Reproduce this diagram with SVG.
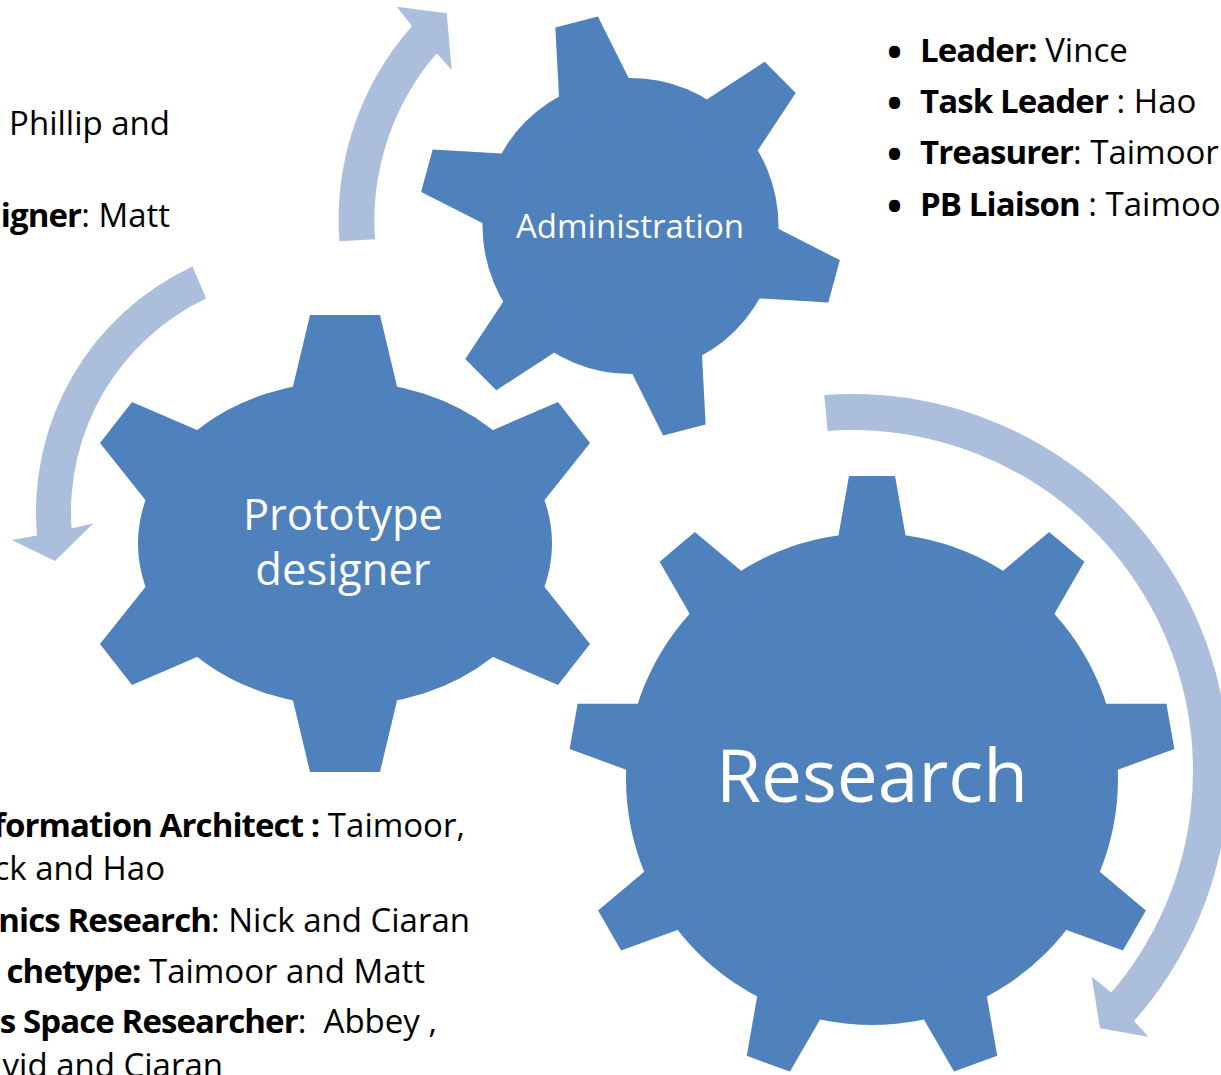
<svg xmlns="http://www.w3.org/2000/svg" xmlns:xlink="http://www.w3.org/1999/xlink" width="1221" height="1075" viewBox="0 0 1221 1075">
<style>
.gear{fill:#4f81bd}
.arrow{fill:#abbedc}
.t{font-family:"Open Sans","Liberation Sans",sans-serif;font-size:33px;fill:#000}
.b{font-weight:bold;letter-spacing:-0.9px}
.bul{font-size:40px;font-weight:bold}
.lbl{font-family:"Open Sans","Liberation Sans",sans-serif;fill:#fff;text-anchor:middle}
</style>
<defs>
<polygon id="toothR" points="-39.5,-210 -23,-303 23,-303 39.5,-210"/>
<polygon id="toothA" points="-43,-110 -22,-211 22,-211 43,-110"/>
</defs>
<rect width="1221" height="1075" fill="#fff"/>
<g id="connectors">
<path class="arrow" d="M339.4,241.3 A293,293 0 0 1 412,26 L396.7,6.7 L446.7,13.3 L451.7,70 L436.7,53.3 A257,257 0 0 0 375,239.3 Z"/>
<path class="arrow" d="M192.5,266.4 A271,271 0 0 0 37,535.6 L11.7,540 L55,561 L93.3,523.3 L71.6,528.5 A236,236 0 0 1 206.1,298.6 Z"/>
<path class="arrow" d="M824.3,395 A377,377 0 0 1 1134,1021 L1148.3,1036.7 L1100,1028.3 L1091.7,976.7 L1111.3,992.5 A341,341 0 0 0 827.6,430.9 Z"/>
</g>
<g id="node-administration" class="gear">
<g transform="translate(630.5,226)">
<circle r="148"/>
<use xlink:href="#toothA" transform="rotate(-14.8)"/>
<use xlink:href="#toothA" transform="rotate(45.2)"/>
<use xlink:href="#toothA" transform="rotate(105.2)"/>
<use xlink:href="#toothA" transform="rotate(165.2)"/>
<use xlink:href="#toothA" transform="rotate(225.2)"/>
<use xlink:href="#toothA" transform="rotate(285.2)"/>
</g>
<text class="lbl" x="630" y="238" font-size="33">Administration</text>
</g>
<g id="node-prototype" class="gear">
<ellipse cx="345" cy="543.5" rx="207" ry="162"/>
<polygon points="285,420 310,315 380,315 405,420"/>
<polygon points="285,667 310,772 380,772 405,667"/>
<polygon points="229.5,444 132,402 100,443 164.5,524"/>
<polygon points="460.5,444 558,402 590,443 525.5,524"/>
<polygon points="229.5,643 132,685 100,644 164.5,563"/>
<polygon points="460.5,643 558,685 590,644 525.5,563"/>
<text class="lbl" x="343" y="530" font-size="43.5">Prototype</text>
<text class="lbl" x="343" y="585" font-size="43.5">designer</text>
</g>
<g id="node-research" class="gear">
<g transform="translate(872,779)">
<circle r="246"/>
<use xlink:href="#toothR"/>
<use xlink:href="#toothR" transform="rotate(40)"/>
<use xlink:href="#toothR" transform="rotate(80)"/>
<use xlink:href="#toothR" transform="rotate(120)"/>
<use xlink:href="#toothR" transform="rotate(160)"/>
<use xlink:href="#toothR" transform="rotate(200)"/>
<use xlink:href="#toothR" transform="rotate(240)"/>
<use xlink:href="#toothR" transform="rotate(280)"/>
<use xlink:href="#toothR" transform="rotate(320)"/>
</g>
<text class="lbl" x="872" y="802" font-size="73">Research</text>
</g>
<g id="list-top-left">
<text class="t" x="170" y="135" text-anchor="end">Phillip and</text>
<text class="t" x="170" y="227" text-anchor="end"><tspan class="b">igner</tspan>: Matt</text>
</g>
<g id="list-administration">
<text class="t" x="887" y="62"><tspan class="bul" dy="4">•</tspan><tspan x="920" dy="-4" class="b">Leader:</tspan> Vince</text>
<text class="t" x="887" y="113"><tspan class="bul" dy="4">•</tspan><tspan x="920" dy="-4" class="b">Task Leader</tspan> : Hao</text>
<text class="t" x="887" y="164"><tspan class="bul" dy="4">•</tspan><tspan x="920" dy="-4" class="b">Treasurer</tspan>: Taimoor</text>
<text class="t" x="887" y="216"><tspan class="bul" dy="4">•</tspan><tspan x="920" dy="-4" class="b">PB Liaison</tspan> : Taimoo</text>
</g>
<g id="list-research">
<text class="t" x="465" y="837" text-anchor="end"><tspan class="b">formation Architect :</tspan> Taimoor,</text>
<text class="t" x="165" y="880" text-anchor="end">ck and Hao</text>
<text class="t" x="470" y="932" text-anchor="end"><tspan class="b">nics Research</tspan>: Nick and Ciaran</text>
<text class="t" x="425" y="983" text-anchor="end"><tspan class="b">chetype:</tspan> Taimoor and Matt</text>
<text class="t" x="437" y="1033" text-anchor="end" xml:space="preserve"><tspan class="b">s Space Researcher</tspan>:  Abbey ,</text>
<text class="t" x="223" y="1077" text-anchor="end">vid and Ciaran</text>
</g>
</svg>
